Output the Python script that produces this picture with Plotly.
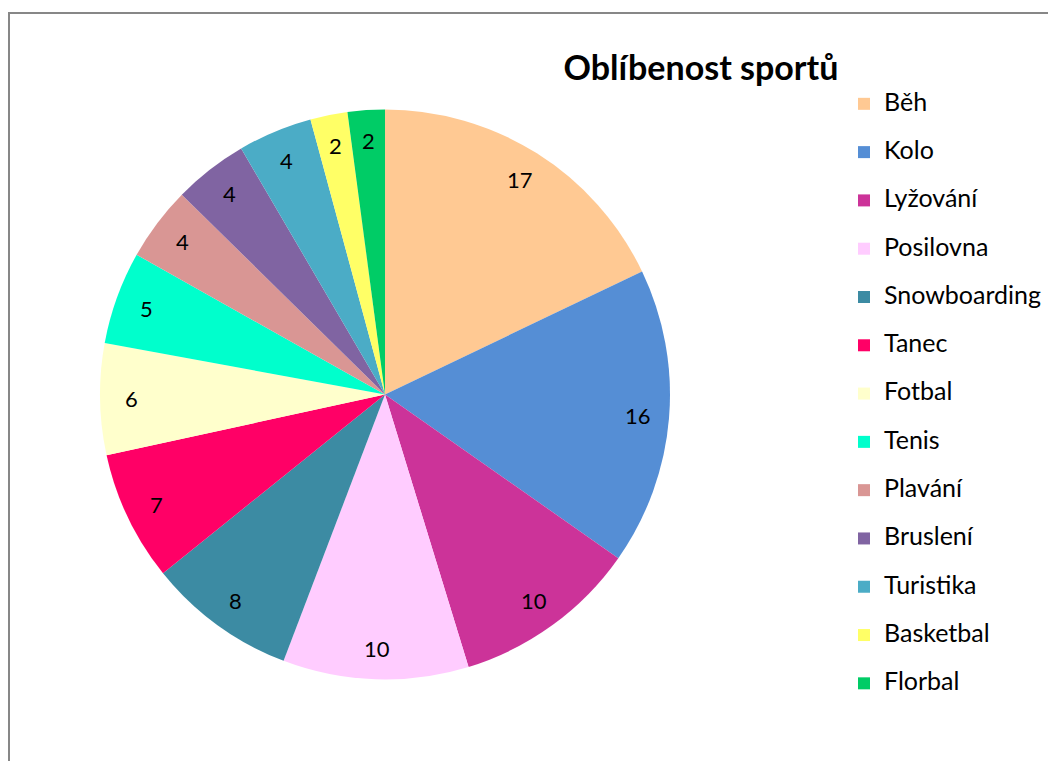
import math
import plotly.graph_objects as go

categories = ["Běh", "Kolo", "Lyžování", "Posilovna", "Snowboarding", "Tanec", "Fotbal",
              "Tenis", "Plavání", "Bruslení", "Turistika", "Basketbal", "Florbal"]
values = [17, 16, 10, 10, 8, 7, 6, 5, 4, 4, 4, 2, 2]
colors = ["#FFC993", "#558ED5", "#CC3399", "#FFCCFF", "#3C8BA3", "#FF0066", "#FFFFCC",
          "#00FFCC", "#D99694", "#8064A2", "#4BACC6", "#FFFF66", "#00CC66"]
title_text = "Oblíbenost sportů"

W, H = 1056, 761
OFF = 8  # page offset of the plot in the browser
FONT = "Lato, 'Open Sans', sans-serif"


def px_x(p):
    return (p - OFF) / W


def px_y(p):
    return 1 - (p - OFF) / H


# pie geometry (screen pixels): centre (385, 395), radius 285
dom_x = [px_x(100), px_x(670)]
dom_y = [px_y(680), px_y(109)]

# legend labels: empty second line gives Excel-like row spacing
legend_labels = [f"<span style='font-size:25px'>{c}</span><br> " for c in categories]

fig = go.Figure()
fig.add_trace(go.Pie(
    labels=legend_labels,
    values=values,
    marker=dict(colors=colors, line=dict(width=0)),
    sort=False,
    direction="clockwise",
    rotation=0,
    textinfo="none",
    hovertext=categories,
    hoverinfo="text+value",
    domain=dict(x=dom_x, y=dom_y),
))

# helper cartesian axes covering the pie domain, unit = pie radius
fig.add_trace(go.Scatter(x=[-1, 1], y=[-1, 1], mode="markers", marker=dict(opacity=0),
                         hoverinfo="skip", showlegend=False))

total = sum(values)
label_r = 0.89
annotations = []
cum = 0
for v in values:
    theta = 2 * math.pi * (cum + v / 2) / total
    cum += v
    annotations.append(dict(
        x=label_r * math.sin(theta), y=label_r * math.cos(theta), xref="x", yref="y",
        text=str(v), showarrow=False, xanchor="center", yanchor="middle",
        font=dict(family=FONT, size=22, color="black"),
    ))

fig.update_layout(
    width=W, height=H,
    margin=dict(l=0, r=0, t=0, b=0),
    paper_bgcolor="white",
    plot_bgcolor="rgba(0,0,0,0)",
    font=dict(family=FONT, color="black"),
    title=dict(text=f"<b>{title_text}</b>", x=px_x(701), xanchor="center",
               y=px_y(68), yanchor="middle",
               font=dict(family=FONT, size=34, color="black")),
    showlegend=True,
    legend=dict(x=px_x(844), xanchor="left", y=px_y(86), yanchor="top",
                font=dict(family=FONT, size=17.42, color="black"),
                valign="top", itemsizing="constant", bgcolor="rgba(0,0,0,0)"),
    xaxis=dict(domain=dom_x, range=[-1, 1], visible=False, fixedrange=True),
    yaxis=dict(domain=dom_y, range=[-1, 1], visible=False, fixedrange=True),
    annotations=annotations,
    shapes=[
        dict(type="line", xref="paper", yref="paper", x0=px_x(8), x1=1.2, y0=px_y(13), y1=px_y(13),
             line=dict(color="#878787", width=2)),
        dict(type="line", xref="paper", yref="paper", x0=px_x(9), x1=px_x(9), y0=-0.2, y1=px_y(13),
             line=dict(color="#878787", width=2)),
    ],
)

fig.write_html("out.html")
